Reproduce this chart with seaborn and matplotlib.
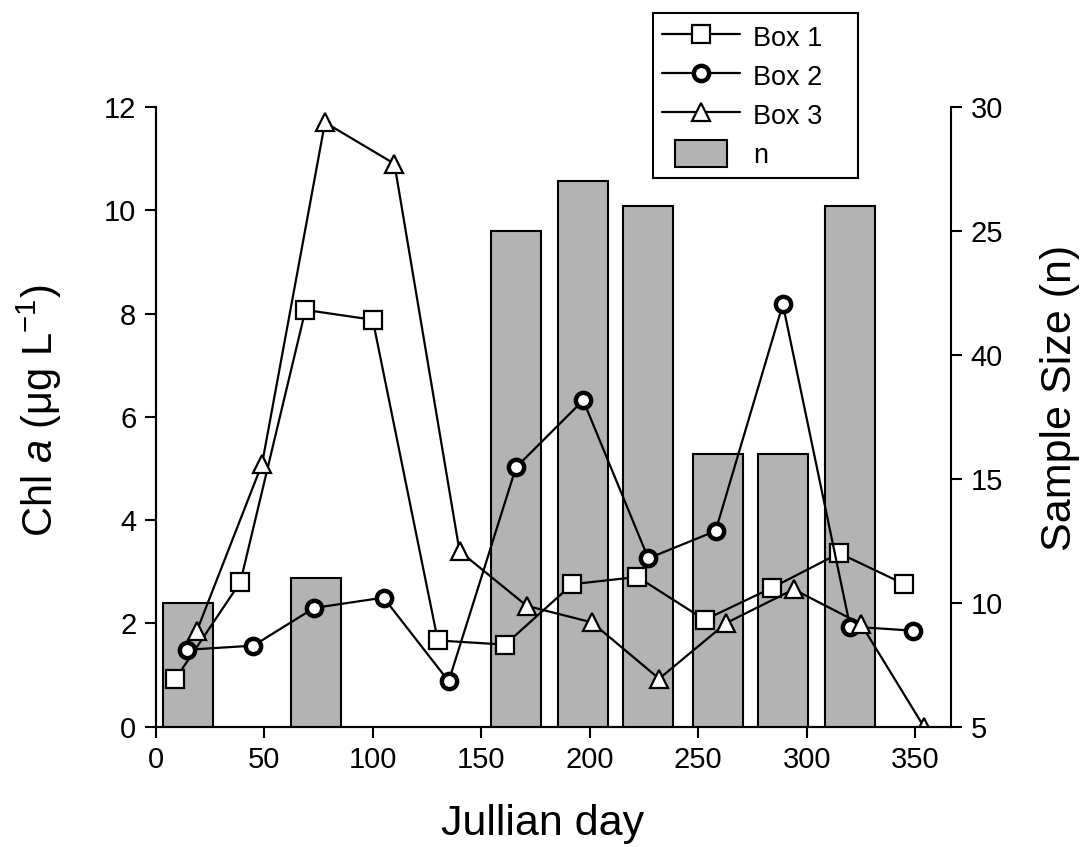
import numpy as np
import pandas as pd
import seaborn as sns
import matplotlib.pyplot as plt
import matplotlib.patches as mpatches
from matplotlib.lines import Line2D
from matplotlib.legend_handler import HandlerPatch

# ---- data ----
box1_day = [9, 39, 69, 100, 130, 161, 192, 222, 253, 284, 315, 345]
box1_chl = [0.92, 2.80, 8.07, 7.88, 1.67, 1.59, 2.76, 2.90, 2.07, 2.69, 3.36, 2.76]

box2_day = [14.5, 45, 73, 105, 135, 166, 197, 227, 258, 289, 320, 349]
box2_chl = [1.49, 1.57, 2.30, 2.50, 0.88, 5.02, 6.32, 3.26, 3.79, 8.18, 1.94, 1.86]

box3_day = [19, 49, 78, 110, 140, 171, 201, 232, 263, 294, 325, 354]
box3_chl = [1.86, 5.09, 11.7, 10.9, 3.40, 2.34, 2.02, 0.93, 2.01, 2.66, 1.99, 0.0]

n_day = [15, 74, 166, 197, 227, 259, 289, 320]
n_count = [10, 11, 25, 27, 26, 16, 16, 26]

right_ticks = [5, 10, 15, 20, 25, 30]
right_labels = ["5", "10", "15", "40", "25", "30"]  # as printed on the original

sns.set_style("ticks")
plt.rcParams['font.family'] = ['Liberation Sans', 'DejaVu Sans']
plt.rcParams['mathtext.fontset'] = 'custom'
plt.rcParams['mathtext.rm'] = 'Liberation Sans'
plt.rcParams['mathtext.it'] = 'Liberation Sans:italic'
for k in ['text.color', 'axes.labelcolor', 'xtick.color', 'ytick.color', 'axes.edgecolor']:
    plt.rcParams[k] = 'black'

fig = plt.figure(figsize=(10.86, 8.47), dpi=100)
ax = fig.add_axes([0.1434, 0.142, 0.8757 - 0.1434, 0.8737 - 0.142])
ax2 = ax.twinx()

# bars (sample size) on the right axis
bars_df = pd.DataFrame({"day": n_day, "n": n_count})
sns.barplot(data=bars_df, x="day", y="n", ax=ax2, native_scale=True,
            width=23 / 30, color="#b3b3b3", saturation=1, errorbar=None,
            edgecolor="black", linewidth=1.5)

# chlorophyll lines on the left axis
line_kw = dict(color="black", linewidth=1.6, markerfacecolor="white",
               markeredgecolor="black", legend=False)
sns.lineplot(x=box1_day, y=box1_chl, ax=ax, marker="s", markersize=12.5,
             markeredgewidth=1.6, **line_kw)
sns.lineplot(x=box2_day, y=box2_chl, ax=ax, marker="o", markersize=11,
             markeredgewidth=3.2, **line_kw)
sns.lineplot(x=box3_day, y=box3_chl, ax=ax, marker="^", markersize=13,
             markeredgewidth=1.6, **line_kw)

ax.set_zorder(ax2.get_zorder() + 1)
ax.patch.set_visible(False)

ax.set_xlim(0, 366.5)
ax.set_ylim(0, 12)
ax2.set_ylim(5, 30)
ax.set_xticks(np.arange(0, 351, 50))
ax.set_yticks(np.arange(0, 13, 2))
ax2.set_yticks(right_ticks)
ax2.set_yticklabels(right_labels)
ax2.set_xlabel("")

for a in (ax, ax2):
    a.spines['top'].set_visible(False)
    for s in a.spines.values():
        s.set_linewidth(1.5)
    a.tick_params(width=1.5, length=8, labelsize=21, pad=6)
ax.spines['right'].set_visible(False)

ax.set_xlabel("Jullian day", fontsize=31)
ax.set_ylabel("Chl $\\mathit{a}$ (μg L$^{-1}$)", fontsize=30)
ax2.set_ylabel("Sample Size (n)", fontsize=31)
ax.xaxis.set_label_coords(0.487, -0.124)
ax.yaxis.set_label_coords(-0.115, 0.51)
ax2.yaxis.set_label_coords(1.112, 0.53)

# legend with lines and the bar patch
mk = dict(color="black", linewidth=1.6, markerfacecolor="white", markeredgecolor="black")
handles = [
    Line2D([], [], marker="s", markersize=12.5, markeredgewidth=1.6, **mk),
    Line2D([], [], marker="o", markersize=11, markeredgewidth=3.2, **mk),
    Line2D([], [], marker="^", markersize=13, markeredgewidth=1.6, **mk),
    mpatches.Patch(facecolor="#b3b3b3", edgecolor="black", linewidth=1.5),
]
labels = ["Box 1", "Box 2", "Box 3", "n"]


def narrow_rect(legend, orig_handle, xdescent, ydescent, width, height, fontsize):
    return mpatches.Rectangle((-xdescent + 0.16 * width, -ydescent), 0.68 * width, height)


leg = ax.legend(handles, labels, loc="upper left",
                bbox_to_anchor=(653 / 1086, 1 - 172 / 847, 205 / 1086, 159 / 847),
                bbox_transform=fig.transFigure, mode="expand", fontsize=19.5,
                frameon=True, fancybox=False, framealpha=1,
                edgecolor="black", handlelength=2.85, handleheight=1.2,
                labelspacing=0.37, borderpad=0.35, handletextpad=0.5,
                borderaxespad=0,
                handler_map={handles[3]: HandlerPatch(patch_func=narrow_rect)})
leg.get_frame().set_linewidth(1.5)

plt.savefig("out.png", dpi=100)
